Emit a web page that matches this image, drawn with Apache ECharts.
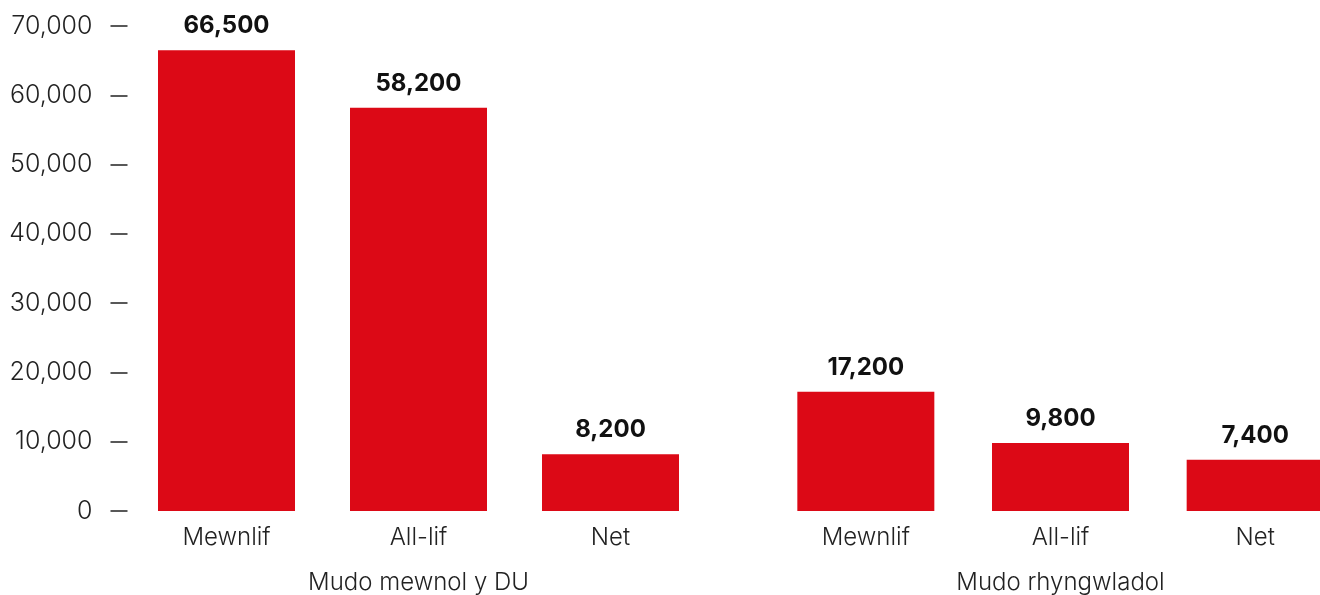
<!DOCTYPE html>
<html>
<head>
<meta charset="utf-8">
<script src="https://cdn.jsdelivr.net/npm/echarts@6/dist/echarts.min.js"></script>
<style>
  html, body { margin: 0; padding: 0; background: #ffffff; }
  #chart { width: 1320px; height: 595px; }
</style>
</head>
<body>
<div id="chart"></div>
<script>
// Migration flows, two groups of three bars each
const groupNames = ['Mudo mewnol y DU', 'Mudo rhyngwladol'];
const flowLabels = ['Mewnlif', 'All-lif', 'Net'];
const internalUK = [66500, 58200, 8200];
const international = [17200, 9800, 7400];
const yTicks = [0, 10000, 20000, 30000, 40000, 50000, 60000, 70000];

const RED = '#dc0916';
const TEXT = '#222222';
const FONT = 'Inter';

const fmt = v => v.toLocaleString('en-GB');

const chart = echarts.init(document.getElementById('chart'), null, { renderer: 'canvas' });

function xAxisFor(idx) {
  return {
    type: 'category',
    gridIndex: idx,
    data: flowLabels,
    axisLine: { show: false },
    axisTick: { show: false },
    axisLabel: {
      color: TEXT, fontFamily: FONT, fontSize: 24, fontWeight: 300, margin: 15
    },
    name: groupNames[idx],
    nameLocation: 'middle',
    nameGap: 60,
    nameTextStyle: { color: TEXT, fontFamily: FONT, fontSize: 24, fontWeight: 300 }
  };
}

function yAxisFor(idx, visible) {
  return {
    type: 'value',
    gridIndex: idx,
    min: yTicks[0],
    max: yTicks[yTicks.length - 1],
    interval: yTicks[1] - yTicks[0],
    show: visible,
    offset: 3,
    splitLine: { show: false },
    axisLine: { show: false },
    axisTick: { show: visible, length: 17, lineStyle: { color: TEXT, width: 1.5 } },
    axisLabel: {
      show: visible, color: TEXT, fontFamily: FONT, fontSize: 25, fontWeight: 300, margin: 35,
      formatter: v => fmt(v)
    }
  };
}

function barSeries(idx, values) {
  return {
    type: 'bar',
    xAxisIndex: idx,
    yAxisIndex: idx,
    data: values,
    barWidth: 137,
    itemStyle: { color: RED },
    label: {
      show: true, position: 'top', distance: 12,
      color: '#111111', fontFamily: FONT, fontSize: 24, fontWeight: 'bold',
      formatter: p => fmt(p.value)
    },
    silent: true,
    animation: false
  };
}

chart.setOption({
  animation: false,
  grid: [
    { left: 130.5, width: 576, top: 26, bottom: 84, containLabel: false, outerBoundsMode: 'none' },
    { left: 768.5, width: 584, top: 26, bottom: 84, containLabel: false, outerBoundsMode: 'none' }
  ],
  xAxis: [xAxisFor(0), xAxisFor(1)],
  yAxis: [yAxisFor(0, true), yAxisFor(1, false)],
  series: [barSeries(0, internalUK), barSeries(1, international)]
});
</script>
</body>
</html>
